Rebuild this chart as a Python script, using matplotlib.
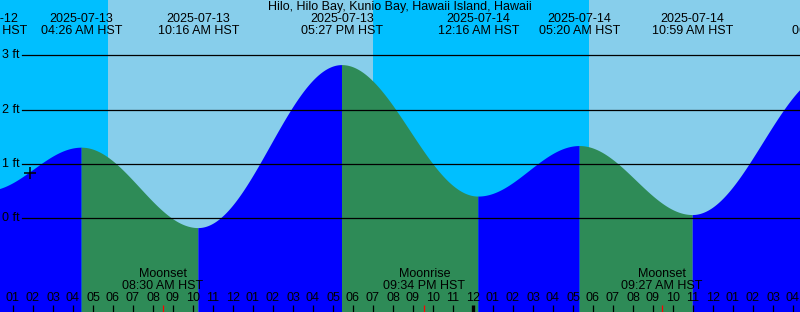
import numpy as np
import pandas as pd
import matplotlib
matplotlib.use('Agg')
import matplotlib.pyplot as plt
from matplotlib.transforms import blended_transform_factory

plt.rcParams['font.family'] = ['Liberation Sans', 'DejaVu Sans']
plt.rcParams['font.size'] = 9

# Data
title = 'Hilo, Hilo Bay, Kunio Bay, Hawaii Island, Hawaii'
tide_times = ['2025-07-12 23:41', '2025-07-13 04:26', '2025-07-13 10:16',
              '2025-07-13 17:27', '2025-07-14 00:16', '2025-07-14 05:20',
              '2025-07-14 10:59', '2025-07-14 18:00']
tide_heights = [0.50, 1.30, -0.18, 2.82, 0.40, 1.33, 0.06, 2.70]
sunrise_times = ['2025-07-13 05:46', '2025-07-14 05:47']
sunset_times = ['2025-07-13 19:00', '2025-07-14 19:00']
moon_times = ['2025-07-13 08:30', '2025-07-13 21:34', '2025-07-14 09:27']
moon_events = ['Moonset', 'Moonrise', 'Moonset']
now_time = '2025-07-13 01:51'
now_height = 0.84
ft_levels = [0, 1, 2, 3]

base = pd.Timestamp('2025-07-13 00:00')


def hrs(s):
    return (pd.Timestamp(s) - base) / pd.Timedelta(hours=1)


# colours (xtide style)
day_sky = '#87CEEB'
night_sky = '#00BFFF'
rise_col = '#0000FF'
fall_col = '#2E8B57'

W, H = 800, 312
fig = plt.figure(figsize=(W / 100, H / 100), dpi=100)
ax = fig.add_axes([0, 0, 1, 1])
ax.set_axis_off()

# pixel x = 20 * hours - 7 ; pixel y = 218.3 - 54.33 * ft
t_min, t_max = 7 / 20, (W + 7) / 20
ax.set_xlim(t_min, t_max)
ax.set_ylim((218.3 - H) / 54.33, 218.3 / 54.33)


def yf(py):
    return 1 - py / H


trans = blended_transform_factory(ax.transData, ax.transAxes)
trans_y = blended_transform_factory(ax.transAxes, ax.transData)

# sky: night everywhere, day spans on top
ax.axvspan(t_min - 10, t_max + 10, color=night_sky, lw=0, zorder=0)
for r, s in zip(sunrise_times, sunset_times):
    ax.axvspan(hrs(r), hrs(s), color=day_sky, lw=0, zorder=1)

# tide curve, half cosine between highs and lows
tt = [hrs(s) for s in tide_times]
for i in range(len(tt) - 1):
    t0, t1 = tt[i], tt[i + 1]
    h0, h1 = tide_heights[i], tide_heights[i + 1]
    t = np.linspace(t0, t1, 300)
    h = h0 + (h1 - h0) * (1 - np.cos(np.pi * (t - t0) / (t1 - t0))) / 2
    col = rise_col if h1 > h0 else fall_col
    ax.fill_between(t, -5, h, color=col, lw=0, zorder=2)

# horizontal lines + labels
for lev in ft_levels:
    ax.axhline(lev, xmin=22 / W, xmax=1, color='black', lw=0.9, zorder=3)
    ax.text(2 / W, lev, f'{lev} ft', transform=trans_y, ha='left',
            va='center', zorder=4)

# title and tide event labels
fig.text(0.5, yf(7.3), title, ha='center', va='center')
for s in tide_times:
    ts = pd.Timestamp(s)
    x = hrs(s)
    ax.text(x, yf(19.5), ts.strftime('%Y-%m-%d'), transform=trans,
            ha='center', va='center', zorder=4)
    ax.text(x, yf(31.3), ts.strftime('%I:%M %p') + ' HST', transform=trans,
            ha='center', va='center', zorder=4)

# moon labels
for s, name in zip(moon_times, moon_events):
    x = hrs(s)
    ax.text(x, yf(274), name, transform=trans, ha='center', va='center',
            zorder=4)
    ax.text(x, yf(286), pd.Timestamp(s).strftime('%I:%M %p') + ' HST',
            transform=trans, ha='center', va='center', zorder=4)

# hour labels and ticks
for hr in range(1, 41):
    ax.text(hr, yf(297.7), f'{(hr - 1) % 12 + 1:02d}', transform=trans,
            ha='center', va='center', zorder=4)
    lw = 2.4 if hr % 24 == 0 else 0.9
    ax.plot([hr, hr], [yf(305), yf(312)], transform=trans, color='black',
            lw=lw, solid_capstyle='butt', zorder=4)
for s in moon_times:
    x = hrs(s)
    ax.plot([x, x], [yf(305), yf(312)], transform=trans, color='red',
            lw=0.9, solid_capstyle='butt', zorder=5)

# current time marker
ax.plot(hrs(now_time), now_height, marker='+', ms=8, mew=1.1,
        color='black', zorder=5)

fig.savefig('out.png', dpi=100)
